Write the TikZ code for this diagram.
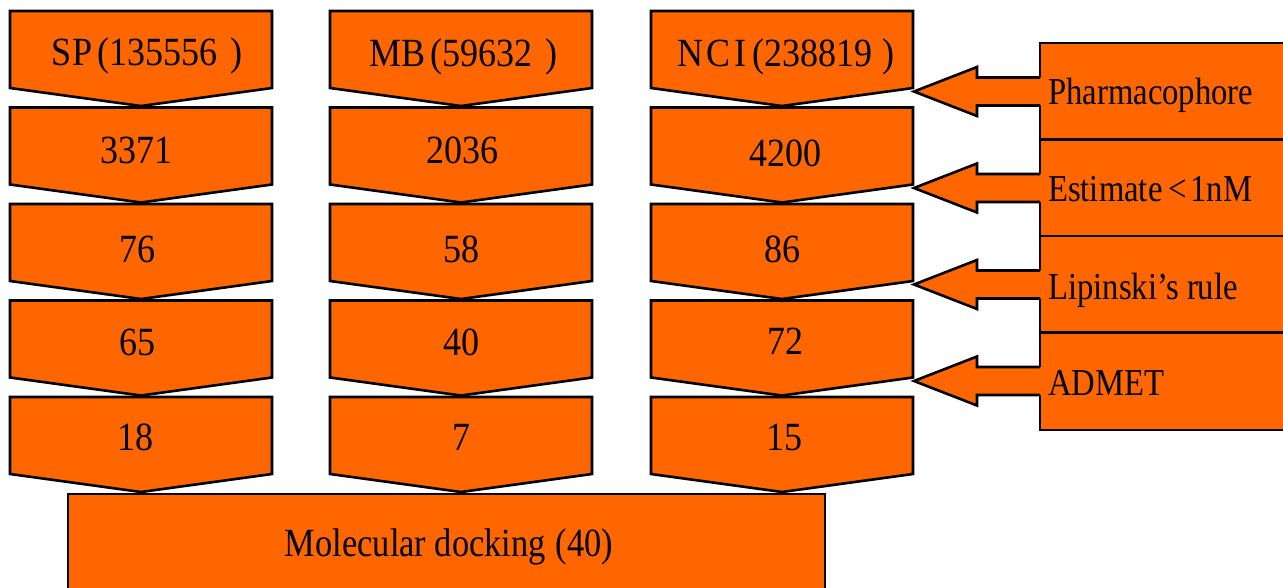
\documentclass[tikz,border=0pt]{standalone}
\usepackage{fontspec}
\setmainfont{Liberation Serif}
\newfontfamily\boxfont[FakeStretch=0.9]{Liberation Serif}
\newfontfamily\sidefont[FakeStretch=0.86]{Liberation Serif}
\definecolor{stageorange}{RGB}{255,102,0}
\begin{document}
\begin{tikzpicture}[x=1pt,y=-1pt,
  stage/.style={fill=stageorange,draw=black,line width=2.6pt,line join=miter},
  boxtext/.style={font=\boxfont\fontsize{40}{42}\selectfont,inner sep=0pt,anchor=base},
  sidetext/.style={font=\sidefont\fontsize{38}{40}\selectfont,inner sep=0pt,anchor=base west},
  docktext/.style={font=\sidefont\fontsize{40}{42}\selectfont,inner sep=0pt,anchor=base},
]
\useasboundingbox (0,0) rectangle (1283,588);
\clip (0,0) rectangle (1283,588);

% downward chevrons, three columns of five stages
\foreach \cx in {141,461,782}{
  \foreach \r in {0,...,4}{
    \pgfmathsetmacro\tp{11+96.5*\r}
    \path[stage] (\cx-131,\tp) -- (\cx+131,\tp) -- (\cx+131,\tp+77)
      -- (\cx,\tp+95) -- (\cx-131,\tp+77) -- cycle;
  }
}

% stage counts
\node[boxtext] (sp)  at (147,66)  {SP\hspace{0.15em}(135556\hspace{0.3em})};
\node[boxtext] (sp1) at (136,164) {3371};
\node[boxtext] (sp2) at (137,263) {76};
\node[boxtext] (sp3) at (137,355) {65};
\node[boxtext] (sp4) at (135,450) {18};

\node[boxtext] (mb)  at (463,67)  {MB\hspace{0.15em}(59632\hspace{0.3em})};
\node[boxtext] (mb1) at (462,164) {2036};
\node[boxtext] (mb2) at (461,263) {58};
\node[boxtext] (mb3) at (461,355) {40};
\node[boxtext] (mb4) at (461,450) {7};

\node[boxtext] (nci)  at (786,67)  {N\hspace{0.08em}C\hspace{0.08em}I\hspace{0.15em}(238819\hspace{0.25em})};
\node[boxtext] (nci1) at (785,167) {4200};
\node[boxtext] (nci2) at (782,262) {86};
\node[boxtext] (nci3) at (785,354) {72};
\node[boxtext] (nci4) at (784,450) {15};

% final docking stage
\path[stage] (68,494) rectangle (825,640);
\node[docktext] (dock) at (449,556) {Molecular docking\hspace{0.25em}(40)};

% filter criteria on the right
\foreach \tp/\bt in {43/139.5,139.5/236,236/332.5,332.5/430}
  \path[stage] (1040,\tp) rectangle (1320,\bt);

% block arrows from each criterion into the NCI column
\foreach \c in {91.5,188,284.5,381}{
  \fill[stageorange] (1042,\c-14) -- (977,\c-14) -- (977,\c-24.5) -- (914,\c)
    -- (977,\c+24.5) -- (977,\c+14) -- (1042,\c+14) -- cycle;
  \draw[line width=2.6pt,line join=miter] (1040,\c-14) -- (977,\c-14) -- (977,\c-24.5)
    -- (914,\c) -- (977,\c+24.5) -- (977,\c+14) -- (1040,\c+14);
}

\node[sidetext] (ph)  at (1048,104.5) {Pharmacophore};
\node[sidetext] (est) at (1048,202)   {Estimate\hspace{0.15em}<\hspace{0.1em}1nM};
\node[sidetext] (lip) at (1048,299)   {Lipinski’s rule};
\node[sidetext] (adm) at (1048,395.5) {ADMET};
\end{tikzpicture}
\end{document}
